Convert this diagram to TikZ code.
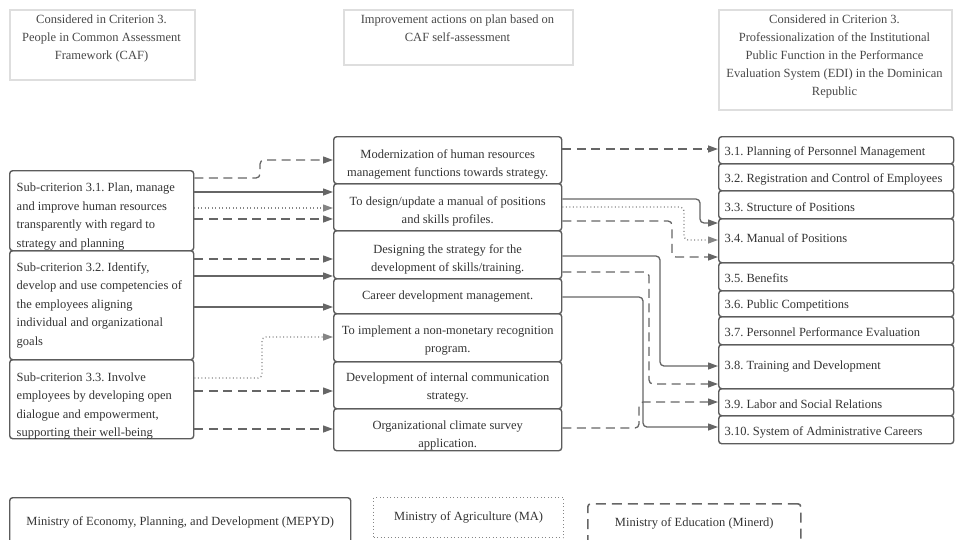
\documentclass[tikz,border=0pt]{standalone}
\usepackage{fontspec}
\setmainfont{Liberation Serif}
\usetikzlibrary{arrows.meta}
\definecolor{boxline}{HTML}{5C5C5C}
\definecolor{linkline}{HTML}{666666}
\definecolor{txt}{HTML}{333333}
\definecolor{hdrline}{HTML}{DEDEDE}
\begin{document}
\frenchspacing
\begin{tikzpicture}[x=1pt,y=-1pt,
  every node/.style={font=\fontsize{12.5}{18.5}\selectfont, text=txt},
  box/.style={draw=boxline, line width=1.4pt, rounded corners=3pt, inner sep=0pt, anchor=north west},
  critbox/.style={box, minimum width=184pt},
  actbox/.style={box, minimum width=228pt},
  edibox/.style={box, minimum width=235pt},
  % texts written inside the boxes
  crittext/.style={inner sep=0pt, text width=170pt, align=flush left},
  acttext/.style={inner sep=0pt, text width=226pt, align=flush center, font=\fontsize{12.5}{18}\selectfont},
  editext/.style={inner sep=0pt, text width=223pt, align=flush left},
  hdrbox/.style={draw=hdrline, line width=1.8pt, inner sep=0pt, anchor=north west},
  hdrtext/.style={font=\fontsize{12.5}{18}\selectfont, align=center, inner sep=0pt, anchor=north, text=txt!90},
  link/.style={draw=linkline, line width=1.3pt, rounded corners=4pt, -{Triangle[length=10pt,width=7pt]}},
  solidlink/.style={link},
  dashlink/.style={link, dash pattern=on 9pt off 5.5pt},
  dotlink/.style={link, draw=linkline!80, dash pattern=on 1pt off 2.5pt},
  legbox/.style={inner sep=0pt, anchor=north west, align=center},
]
\useasboundingbox (0,0) rectangle (955,539);

% column headers
\node[hdrbox, minimum width=185pt, minimum height=70pt] (hL) at (9,9) {};
\node[hdrtext] (hLt) at (101.5,14.5) {Considered in Criterion 3.\\People in Common Assessment\\Framework (CAF)};
\node[hdrbox, minimum width=229pt, minimum height=55pt] (hM) at (343,9) {};
\node[hdrtext] (hMt) at (457.5,14.5) {Improvement actions on plan based on\\CAF self-assessment};
\node[hdrbox, minimum width=233pt, minimum height=100pt] (hR) at (718,9) {};
\node[hdrtext] (hRt) at (834.5,14.5) {Considered in Criterion 3.\\Professionalization of the Institutional\\Public Function in the Performance\\Evaluation System (EDI) in the Dominican\\Republic};

% CAF sub-criteria
\node[critbox, minimum height=80pt] (c1) at (9,170) {};
\node[crittext] (c1t) at ([yshift=-6pt]c1.center) {Sub-criterion 3.1. Plan, manage\\and improve human resources\\transparently with regard to\\strategy and planning};
\node[critbox, minimum height=109pt] (c2) at (9,250) {};
\node[crittext] (c2t) at (c2.center) {Sub-criterion 3.2. Identify,\\develop and use competencies of\\the employees aligning\\individual and organizational\\goals};
\node[critbox, minimum height=79pt] (c3) at (9,359) {};
\node[crittext] (c3t) at ([yshift=-7pt]c3.center) {Sub-criterion 3.3. Involve\\employees by developing open\\dialogue and empowerment,\\supporting their well-being};

% improvement actions
\node[actbox, minimum height=47pt] (a1) at (333,136) {};
\node[acttext] (a1t) at ([yshift=-4pt]a1.center) {Modernization of human resources\\management functions towards strategy.};
\node[actbox, minimum height=47pt] (a2) at (333,183) {};
\node[acttext] (a2t) at ([yshift=-4pt]a2.center) {To design/update a manual of positions\\and skills profiles.};
\node[actbox, minimum height=48pt] (a3) at (333,230) {};
\node[acttext] (a3t) at ([yshift=-4.5pt]a3.center) {Designing the strategy for the\\development of skills/training.};
\node[actbox, minimum height=35pt] (a4) at (333,278) {};
\node[acttext] (a4t) at (a4.center) {Career development management.};
\node[actbox, minimum height=48pt] (a5) at (333,313) {};
\node[acttext] (a5t) at ([yshift=-3pt]a5.center) {To implement a non-monetary recognition\\program.};
\node[actbox, minimum height=47pt] (a6) at (333,361) {};
\node[acttext] (a6t) at ([yshift=-2pt]a6.center) {Development of internal communication\\strategy.};
\node[actbox, minimum height=42pt] (a7) at (333,408) {};
\node[acttext] (a7t) at ([yshift=-6pt]a7.center) {Organizational climate survey\\application.};

% EDI sub-criteria
\node[edibox, minimum height=27pt] (e1) at (718,136) {};
\node[editext] (e1t) at ([yshift=-2pt]e1.center) {3.1. Planning of Personnel Management};
\node[edibox, minimum height=27pt] (e2) at (718,163) {};
\node[editext] (e2t) at ([yshift=-2pt]e2.center) {3.2. Registration and Control of Employees};
\node[edibox, minimum height=28pt] (e3) at (718,190) {};
\node[editext] (e3t) at ([yshift=-2pt]e3.center) {3.3. Structure of Positions};
\node[edibox, minimum height=44pt] (e4) at (718,218) {};
\node[editext] (e4t) at ([yshift=3pt]e4.center) {3.4. Manual of Positions};
\node[edibox, minimum height=28pt] (e5) at (718,262) {};
\node[editext] (e5t) at ([yshift=-1pt]e5.center) {3.5. Benefits};
\node[edibox, minimum height=26pt] (e6) at (718,290) {};
\node[editext] (e6t) at ([yshift=-2pt]e6.center) {3.6. Public Competitions};
\node[edibox, minimum height=28pt] (e7) at (718,316) {};
\node[editext] (e7t) at ([yshift=-1pt]e7.center) {3.7. Personnel Performance Evaluation};
\node[edibox, minimum height=44pt] (e8) at (718,344) {};
\node[editext] (e8t) at (e8.center) {3.8. Training and Development};
\node[edibox, minimum height=27pt] (e9) at (718,388) {};
\node[editext] (e9t) at ([yshift=-2pt]e9.center) {3.9. Labor and Social Relations};
\node[edibox, minimum height=28pt] (e10) at (718,415) {};
\node[editext] (e10t) at ([yshift=-3pt]e10.center) {3.10. System of Administrative Careers};

% sub-criteria -> actions
\draw[dashlink] (c1.east |- 0,178) -- (260,178) -- (260,160) -- (a1.west |- 0,160);
\draw[solidlink] (c1.east |- 0,192) -- (a2.west |- 0,192);
\draw[dotlink] (c1.east |- 0,208) -- (a2.west |- 0,208);
\draw[dashlink] (c1.east |- 0,219) -- (a2.west |- 0,219);
\draw[dashlink] (c2.east |- 0,259) -- (a3.west |- 0,259);
\draw[solidlink] (c2.east |- 0,276) -- (a3.west |- 0,276);
\draw[solidlink] (c2.east |- 0,307) -- (a4.west |- 0,307);
\draw[dotlink] (c3.east |- 0,378) -- (262,378) -- (262,337) -- (a5.west |- 0,337);
\draw[dashlink] (c3.east |- 0,391) -- (a6.west |- 0,391);
\draw[dashlink] (c3.east |- 0,429) -- (a7.west |- 0,429);

% actions -> EDI sub-criteria
\draw[dashlink] (a1.east |- 0,149) -- (e1.west |- 0,149);
\draw[solidlink] (a2.east |- 0,199) -- (700,199) -- (700,223) -- (e4.west |- 0,223);
\draw[dotlink] (a2.east |- 0,207) -- (684,207) -- (684,240) -- (e4.west |- 0,240);
\draw[dashlink] (a2.east |- 0,221) -- (672,221) -- (672,257) -- (e4.west |- 0,257);
\draw[solidlink] (a3.east |- 0,256) -- (660,256) -- (660,366) -- (e8.west |- 0,366);
\draw[dashlink] (a3.east |- 0,272) -- (649,272) -- (649,384) -- (e8.west |- 0,384);
\draw[solidlink] (a4.east |- 0,297) -- (643,297) -- (643,427) -- (e10.west |- 0,427);
\draw[dashlink] (a7.east |- 0,428) -- (639,428) -- (639,402) -- (e9.west |- 0,402);

% legend
\node[legbox, draw=boxline, line width=1.4pt, rounded corners=3pt, minimum width=341pt, minimum height=50pt] (g1) at (9,497) {Ministry of Economy, Planning, and Development (MEPYD)};
\node[legbox, draw=linkline!80, line width=1.2pt, dash pattern=on 1pt off 2.5pt, minimum width=190pt, minimum height=40pt] (g2) at (373,497) {Ministry of Agriculture (MA)};
\node[legbox, draw=linkline, line width=1.6pt, rounded corners=3pt, dash pattern=on 10pt off 6pt, minimum width=213pt, minimum height=40pt] (g3) at (587,503) {Ministry of Education (Minerd)};
\end{tikzpicture}
\end{document}
